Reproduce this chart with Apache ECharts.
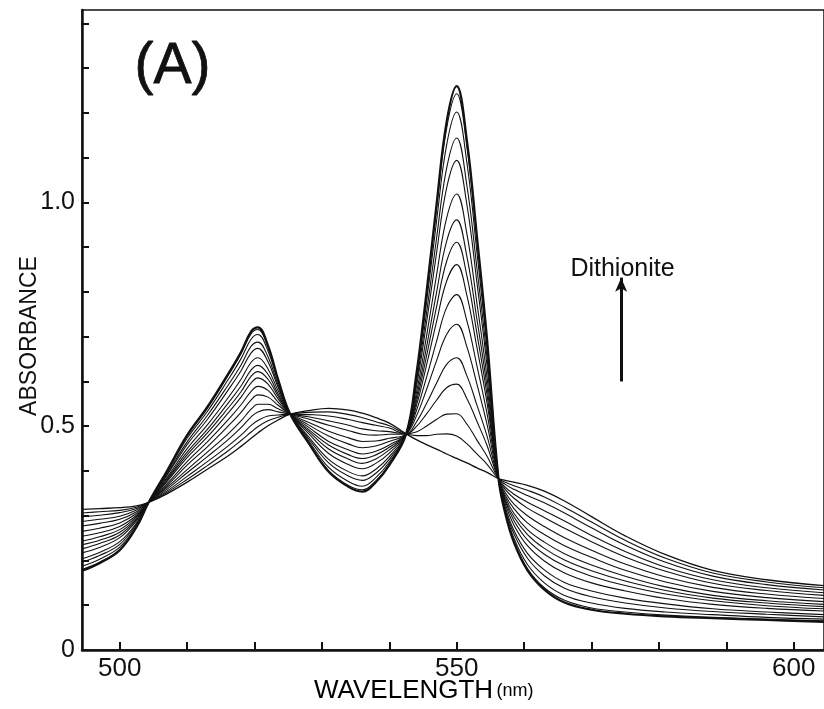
<!DOCTYPE html>
<html>
<head>
<meta charset="utf-8">
<title>Dithionite titration spectra</title>
<script src="https://cdn.jsdelivr.net/npm/echarts@6/dist/echarts.min.js"></script>
<style>
  html, body { margin: 0; padding: 0; background: #fff; }
  #chart { width: 824px; height: 709px; }
</style>
</head>
<body>
<div id="chart"></div>
<script>
// Wavelength grid (nm) shared by all traces
const wavelength = [494.4, 497, 500, 502.5, 504.3, 507, 510, 513, 516, 518, 519.5, 520.5, 522, 523.5, 525.3, 528, 531, 534, 536, 538, 540, 542.5, 544, 545.5, 547, 548.5, 550, 551.5, 553, 554.5, 556.2, 557.2, 558.5, 560.5, 563, 566, 570, 575, 581, 588, 596, 604.5];

// Absorbance traces, from the oxidized sample through successive dithionite additions to the fully reduced one
const oxidized = [0.314, 0.316, 0.318, 0.322, 0.330, 0.349, 0.375, 0.404, 0.433, 0.455, 0.473, 0.485, 0.501, 0.514, 0.527, 0.535, 0.540, 0.536, 0.529, 0.519, 0.507, 0.483, 0.470, 0.459, 0.449, 0.438, 0.428, 0.418, 0.407, 0.397, 0.383, 0.379, 0.375, 0.368, 0.355, 0.333, 0.298, 0.255, 0.213, 0.178, 0.157, 0.144];
const add1 = [0.306, 0.309, 0.312, 0.319, 0.330, 0.352, 0.381, 0.412, 0.444, 0.468, 0.487, 0.499, 0.512, 0.520, 0.527, 0.531, 0.532, 0.526, 0.519, 0.510, 0.501, 0.483, 0.479, 0.479, 0.482, 0.483, 0.478, 0.461, 0.438, 0.415, 0.383, 0.375, 0.367, 0.357, 0.342, 0.319, 0.286, 0.245, 0.205, 0.172, 0.152, 0.139];
const add2 = [0.298, 0.301, 0.307, 0.316, 0.330, 0.355, 0.388, 0.421, 0.455, 0.480, 0.502, 0.513, 0.523, 0.525, 0.527, 0.526, 0.523, 0.515, 0.508, 0.502, 0.496, 0.483, 0.487, 0.500, 0.515, 0.527, 0.528, 0.505, 0.469, 0.433, 0.383, 0.370, 0.359, 0.345, 0.329, 0.306, 0.273, 0.234, 0.196, 0.165, 0.146, 0.134];
const add3 = [0.287, 0.292, 0.299, 0.313, 0.330, 0.359, 0.396, 0.432, 0.469, 0.497, 0.521, 0.532, 0.537, 0.532, 0.527, 0.521, 0.512, 0.502, 0.494, 0.490, 0.488, 0.483, 0.499, 0.527, 0.558, 0.586, 0.594, 0.562, 0.511, 0.457, 0.383, 0.364, 0.348, 0.330, 0.311, 0.288, 0.256, 0.220, 0.185, 0.157, 0.139, 0.128];
const add4 = [0.277, 0.283, 0.292, 0.309, 0.330, 0.363, 0.403, 0.442, 0.482, 0.512, 0.538, 0.549, 0.549, 0.539, 0.527, 0.516, 0.502, 0.490, 0.482, 0.480, 0.482, 0.483, 0.509, 0.550, 0.596, 0.638, 0.653, 0.613, 0.547, 0.478, 0.383, 0.359, 0.339, 0.317, 0.296, 0.272, 0.242, 0.208, 0.176, 0.149, 0.133, 0.122];
const add5 = [0.265, 0.272, 0.284, 0.305, 0.330, 0.367, 0.413, 0.454, 0.499, 0.531, 0.559, 0.570, 0.565, 0.547, 0.527, 0.509, 0.489, 0.474, 0.466, 0.467, 0.473, 0.483, 0.522, 0.581, 0.646, 0.705, 0.728, 0.678, 0.594, 0.504, 0.383, 0.352, 0.326, 0.300, 0.276, 0.251, 0.223, 0.192, 0.163, 0.140, 0.125, 0.115];
const add6 = [0.254, 0.262, 0.276, 0.301, 0.330, 0.371, 0.421, 0.465, 0.513, 0.548, 0.578, 0.589, 0.580, 0.554, 0.527, 0.503, 0.478, 0.460, 0.452, 0.456, 0.466, 0.483, 0.534, 0.608, 0.689, 0.765, 0.794, 0.736, 0.635, 0.528, 0.383, 0.346, 0.316, 0.284, 0.258, 0.233, 0.207, 0.178, 0.152, 0.131, 0.117, 0.108];
const add7 = [0.243, 0.253, 0.269, 0.298, 0.330, 0.376, 0.430, 0.476, 0.528, 0.565, 0.597, 0.608, 0.594, 0.561, 0.527, 0.498, 0.466, 0.447, 0.438, 0.444, 0.458, 0.483, 0.545, 0.635, 0.733, 0.824, 0.861, 0.793, 0.676, 0.552, 0.383, 0.341, 0.305, 0.269, 0.241, 0.215, 0.190, 0.165, 0.141, 0.122, 0.110, 0.102];
const add8 = [0.235, 0.245, 0.263, 0.295, 0.330, 0.379, 0.436, 0.485, 0.539, 0.577, 0.612, 0.622, 0.605, 0.567, 0.527, 0.493, 0.458, 0.436, 0.428, 0.436, 0.453, 0.483, 0.554, 0.655, 0.766, 0.868, 0.911, 0.837, 0.707, 0.570, 0.383, 0.336, 0.297, 0.258, 0.227, 0.201, 0.177, 0.154, 0.133, 0.116, 0.105, 0.097];
const add9 = [0.226, 0.238, 0.257, 0.292, 0.330, 0.382, 0.442, 0.493, 0.550, 0.590, 0.626, 0.636, 0.616, 0.572, 0.527, 0.489, 0.449, 0.426, 0.417, 0.427, 0.447, 0.483, 0.563, 0.675, 0.798, 0.913, 0.961, 0.880, 0.739, 0.588, 0.383, 0.332, 0.289, 0.246, 0.214, 0.188, 0.165, 0.144, 0.125, 0.110, 0.099, 0.092];
const add10 = [0.217, 0.229, 0.251, 0.289, 0.330, 0.385, 0.450, 0.503, 0.562, 0.605, 0.643, 0.653, 0.628, 0.579, 0.527, 0.484, 0.439, 0.414, 0.405, 0.417, 0.440, 0.483, 0.573, 0.699, 0.837, 0.965, 1.019, 0.931, 0.775, 0.609, 0.383, 0.327, 0.279, 0.233, 0.199, 0.172, 0.150, 0.132, 0.115, 0.102, 0.093, 0.087];
const add11 = [0.204, 0.218, 0.242, 0.284, 0.330, 0.390, 0.459, 0.515, 0.579, 0.624, 0.664, 0.674, 0.644, 0.587, 0.527, 0.477, 0.426, 0.398, 0.389, 0.404, 0.432, 0.483, 0.586, 0.729, 0.886, 1.032, 1.094, 0.996, 0.821, 0.635, 0.383, 0.320, 0.267, 0.216, 0.179, 0.151, 0.132, 0.116, 0.103, 0.092, 0.085, 0.079];
const add12 = [0.196, 0.211, 0.236, 0.282, 0.330, 0.393, 0.465, 0.524, 0.590, 0.637, 0.679, 0.688, 0.655, 0.592, 0.527, 0.473, 0.418, 0.388, 0.379, 0.395, 0.426, 0.483, 0.595, 0.750, 0.919, 1.076, 1.144, 1.039, 0.853, 0.653, 0.383, 0.315, 0.259, 0.205, 0.166, 0.138, 0.119, 0.105, 0.094, 0.086, 0.080, 0.074];
const add13 = [0.187, 0.203, 0.230, 0.278, 0.330, 0.396, 0.473, 0.533, 0.602, 0.651, 0.695, 0.705, 0.668, 0.599, 0.527, 0.468, 0.408, 0.376, 0.366, 0.385, 0.420, 0.483, 0.605, 0.773, 0.957, 1.128, 1.202, 1.090, 0.889, 0.674, 0.383, 0.310, 0.249, 0.191, 0.150, 0.122, 0.105, 0.093, 0.085, 0.079, 0.073, 0.069];
const add14 = [0.180, 0.196, 0.225, 0.276, 0.330, 0.399, 0.478, 0.540, 0.611, 0.662, 0.707, 0.716, 0.676, 0.603, 0.527, 0.464, 0.401, 0.367, 0.358, 0.378, 0.415, 0.483, 0.612, 0.790, 0.984, 1.165, 1.243, 1.126, 0.915, 0.689, 0.383, 0.307, 0.243, 0.182, 0.139, 0.111, 0.094, 0.085, 0.078, 0.073, 0.069, 0.065];
const reduced = [0.177, 0.194, 0.223, 0.275, 0.330, 0.400, 0.480, 0.543, 0.615, 0.666, 0.712, 0.721, 0.680, 0.605, 0.527, 0.463, 0.398, 0.364, 0.354, 0.375, 0.413, 0.483, 0.615, 0.797, 0.995, 1.180, 1.260, 1.140, 0.925, 0.695, 0.383, 0.305, 0.240, 0.178, 0.135, 0.106, 0.090, 0.081, 0.075, 0.071, 0.067, 0.063];

// Axis ticks and labels
const xTicks = [500, 510, 520, 530, 540, 550, 560, 570, 580, 590, 600];
const xLabels = [500, 550, 600];
const yTicks = [0, 0.1, 0.2, 0.3, 0.4, 0.5, 0.6, 0.7, 0.8, 0.9, 1.0, 1.1, 1.2, 1.3, 1.4];
const yLabels = [0, 0.5, 1.0];

// Arrow marking the direction of change on dithionite addition
const arrowWavelength = 574.4;
const arrowFrom = 0.6;
const arrowTo = 0.832;

const traces = [oxidized, add1, add2, add3, add4, add5, add6, add7, add8, add9, add10, add11, add12, add13, add14, reduced];

const INK = '#111';
const SANS = '"Liberation Sans", Arial, Helvetica, sans-serif';

const chart = echarts.init(document.getElementById('chart'), null, { renderer: 'canvas' });

const series = traces.map((values, i) => {
  const last = i === traces.length - 1;
  const first = i === 0;
  const s = {
    type: 'line',
    name: last ? 'reduced' : (first ? 'oxidized' : 'addition ' + i),
    data: wavelength.map((w, j) => [w, values[j]]),
    showSymbol: false,
    smooth: 0.4,
    silent: true,
    z: last ? 5 : 3,
    lineStyle: {
      color: INK,
      width: last ? 2.2 : (first ? 1.3 : 1.1)
    }
  };
  if (last) {
    s.markLine = {
      silent: true,
      symbol: ['none', 'arrow'],
      symbolSize: [9, 14],
      label: { show: false },
      lineStyle: { color: INK, width: 3, type: 'solid' },
      data: [[
        { coord: [arrowWavelength, arrowFrom] },
        { coord: [arrowWavelength, arrowTo] }
      ]]
    };
  }
  return s;
});

chart.setOption({
  animation: false,
  backgroundColor: '#fff',
  grid: {
    left: 82,
    top: 10,
    width: 746,
    height: 640,
    show: true,
    borderColor: INK,
    borderWidth: 1.5,
    containLabel: false
  },
  xAxis: {
    type: 'value',
    min: 494.4,
    max: 604.5,
    axisLine: { show: true, onZero: false, lineStyle: { color: INK, width: 2.5 } },
    axisTick: { show: true, inside: true, length: 8, customValues: xTicks, lineStyle: { color: INK, width: 2 } },
    axisLabel: {
      customValues: xLabels,
      color: INK,
      fontFamily: SANS,
      fontSize: 26,
      margin: 6
    },
    splitLine: { show: false }
  },
  yAxis: {
    type: 'value',
    min: 0,
    max: 1.43,
    axisLine: { show: true, onZero: false, lineStyle: { color: INK, width: 2.5 } },
    axisTick: { show: true, inside: true, length: 7, customValues: yTicks, lineStyle: { color: INK, width: 2 } },
    axisLabel: {
      customValues: yLabels,
      formatter: v => (v === 0 ? '0' : v.toFixed(1)),
      color: INK,
      fontFamily: SANS,
      fontSize: 25,
      margin: 7
    },
    splitLine: { show: false }
  },
  series: series
});

// Annotations placed in data space through the chart's own coordinate conversion
const labelPos = chart.convertToPixel({ gridIndex: 0 }, [arrowWavelength + 0.2, 0.85]);

chart.setOption({
  graphic: [
    {
      type: 'text',
      left: 134, top: 38,
      style: { text: '(A)', fill: INK, stroke: INK, lineWidth: 0.8, font: '57px ' + SANS }
    },
    {
      type: 'text',
      x: labelPos[0], y: labelPos[1],
      style: { text: 'Dithionite', fill: INK, font: '25px ' + SANS, textAlign: 'center', textVerticalAlign: 'middle' }
    },
    {
      type: 'text',
      x: 30, y: 336,
      rotation: Math.PI / 2,
      style: { text: 'ABSORBANCE', fill: INK, font: '23px ' + SANS, textAlign: 'center', textVerticalAlign: 'middle' }
    },
    {
      type: 'text',
      x: 314, y: 691,
      style: {
        text: '{big|WAVELENGTH} {small|(nm)}',
        textVerticalAlign: 'middle',
        rich: {
          big: { fontFamily: SANS, fontSize: 26, color: INK },
          small: { fontFamily: SANS, fontSize: 18, color: INK }
        }
      }
    }
  ]
});
</script>
</body>
</html>
